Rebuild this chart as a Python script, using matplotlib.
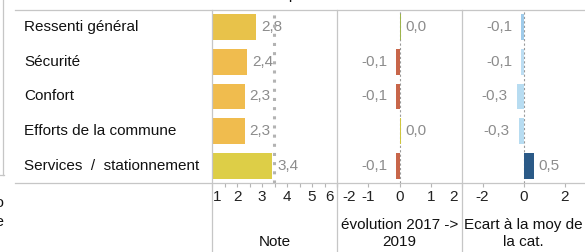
import matplotlib
matplotlib.use("Agg")
import matplotlib.pyplot as plt
from matplotlib.lines import Line2D
from matplotlib.transforms import ScaledTranslation, blended_transform_factory

plt.rcParams['font.family'] = ['Liberation Sans', 'DejaVu Sans']

# ---------------- data ----------------
categories = ["Ressenti général", "Sécurité", "Confort",
              "Efforts de la commune", "Services  /  stationnement"]
note_values = [2.75, 2.4, 2.3, 2.3, 3.4]
note_labels = ["2,8", "2,4", "2,3", "2,3", "3,4"]
note_colors = ["#E8C24A", "#F0BC4E", "#F0BC4E", "#F0BC4E", "#DDCE47"]
note_reference = 3.48

evol_values = [0.04, -0.1, -0.1, 0.04, -0.1]
evol_labels = ["0,0", "-0,1", "-0,1", "0,0", "-0,1"]
evol_colors = ["#9DB44C", "#C8664A", "#C8664A", "#CFC63E", "#C8664A"]

ecart_values = [-0.1, -0.1, -0.34, -0.24, 0.49]
ecart_labels = ["-0,1", "-0,1", "-0,3", "-0,3", "0,5"]
ecart_colors = ["#9FCBEA", "#BCDDF2", "#B7DCF1", "#B7DCF1", "#2B5A87"]

note_ticks = [1, 2, 3, 4, 5, 6]
note_minor = [1.5, 2.5, 3.5, 4.5, 5.5]
evol_ticks = [-2, -1, 0, 1, 2]
ecart_ticks = [-2, 0, 2]

# ---------------- figure ----------------
W, H = 585, 252
fig = plt.figure(figsize=(W / 100, H / 100), dpi=100)

def fx(x):
    return x / W

def fy(y):
    return 1 - y / H

FS = 11
GRAY_TXT = "#8c8c8c"
LINE = "#c6c6c6"

top, bottom = 10, 183
panels = [
    (212, 337, (1, 6), note_values, note_labels, note_colors, note_ticks),
    (337, 462, (-2, 2), evol_values, evol_labels, evol_colors, evol_ticks),
    (462, 585, (-3, 3), ecart_values, ecart_labels, ecart_colors, ecart_ticks),
]

axes = []
for i, (x0, x1, xl, vals, labs, cols, ticks) in enumerate(panels):
    ax = fig.add_axes([fx(x0), fy(bottom), (x1 - x0) / W, (bottom - top) / H])
    ax.set_xlim(*xl)
    ax.set_ylim(4.5, -0.5)
    for s in ax.spines.values():
        s.set_visible(False)
    ax.set_yticks([])
    ax.patch.set_alpha(0)
    y = list(range(len(categories)))
    left = xl[0] if i == 0 else 0
    widths = [v - left for v in vals]
    ax.barh(y, widths, left=left, height=0.75, color=cols, zorder=2)
    ax.set_xticks(ticks)
    ax.set_xticklabels([str(t) for t in ticks])
    ax.tick_params(axis='x', length=2.9, width=0.8, color="#b5b5b5",
                   pad=2.2, labelsize=FS, labelcolor="#222222")
    # value labels
    for yy, v, lab in zip(y, vals, labs):
        if i == 0 or v >= 0:
            off = ScaledTranslation(5 / 100, 0, fig.dpi_scale_trans)
            ax.text(v, yy, lab, ha='left', va='center', fontsize=FS,
                    color=GRAY_TXT, transform=ax.transData + off, zorder=3)
        else:
            off = ScaledTranslation(-9 / 100, 0, fig.dpi_scale_trans)
            ax.text(v, yy, lab, ha='right', va='center', fontsize=FS,
                    color=GRAY_TXT, transform=ax.transData + off, zorder=3)
    axes.append(ax)

ax_note, ax_evol, ax_ecart = axes
ax_note.set_xticks(note_minor, minor=True)
ax_note.tick_params(axis='x', which='minor', length=2.9, width=0.8, color="#b5b5b5")
ax_note.axvline(note_reference, color="#b3b3b3", lw=2.2,
                linestyle=(0, (1, 2)), zorder=4)
ax_evol.axvline(0, color="#9a9a9a", lw=0.8, linestyle=(0, (2, 2)), zorder=1)
ax_ecart.axvline(0, color="#9a9a9a", lw=0.8, linestyle=(0, (2, 2)), zorder=1)

# clamp edge tick labels like the reference
def shift(lbl, dx, ha):
    lbl.set_ha(ha)
    lbl.set_transform(lbl.get_transform() + ScaledTranslation(dx / 100, 0, fig.dpi_scale_trans))

nl = ax_note.get_xticklabels()
shift(nl[0], 1, 'left')
shift(nl[-1], -3, 'right')
el = ax_evol.get_xticklabels()
shift(el[0], 5, 'left')
shift(el[-1], -4, 'right')

# row labels
tr = blended_transform_factory(fig.transFigure, ax_note.transData)
for yy, c in enumerate(categories):
    fig.text(fx(24), yy, c, ha='left', va='center', fontsize=FS,
             color="#111111", transform=tr)

# axis titles
fig.text(fx(274.5), fy(242), "Note", ha='center', va='center', fontsize=FS, color="#111111")
fig.text(fx(399.5), fy(225), "évolution 2017 ->", ha='center', va='center', fontsize=FS, color="#111111")
fig.text(fx(399.5), fy(242), "2019", ha='center', va='center', fontsize=FS, color="#111111")
fig.text(fx(523.5), fy(225), "Ecart à la moy de", ha='center', va='center', fontsize=FS, color="#111111")
fig.text(fx(523.5), fy(242), "la cat.", ha='center', va='center', fontsize=FS, color="#111111")

# grid lines / separators
def fline(x0, y0, x1, y1, color=LINE, lw=0.9):
    fig.add_artist(Line2D([fx(x0), fx(x1)], [fy(y0), fy(y1)], color=color, lw=lw,
                          transform=fig.transFigure))

fline(15, top, 585, top)
fline(15, bottom, 585, bottom)
for xv in (212, 337, 462):
    fline(xv, top, xv, 252)
fline(3, 0, 3, 175)
fline(0, 175, 4, 175)

# cut-off texts at the edges (title above the visible area, labels left of it)
fig.text(fx(245), fy(-1.5), "Notes par thème", ha='left', va='baseline',
         fontsize=FS, color="#111111")
fig.text(fx(4), fy(203), "no", ha='right', va='center', fontsize=FS, color="#111111")
fig.text(fx(4), fy(222), "de", ha='right', va='center', fontsize=FS, color="#111111")

fig.savefig("out.png", dpi=100)
